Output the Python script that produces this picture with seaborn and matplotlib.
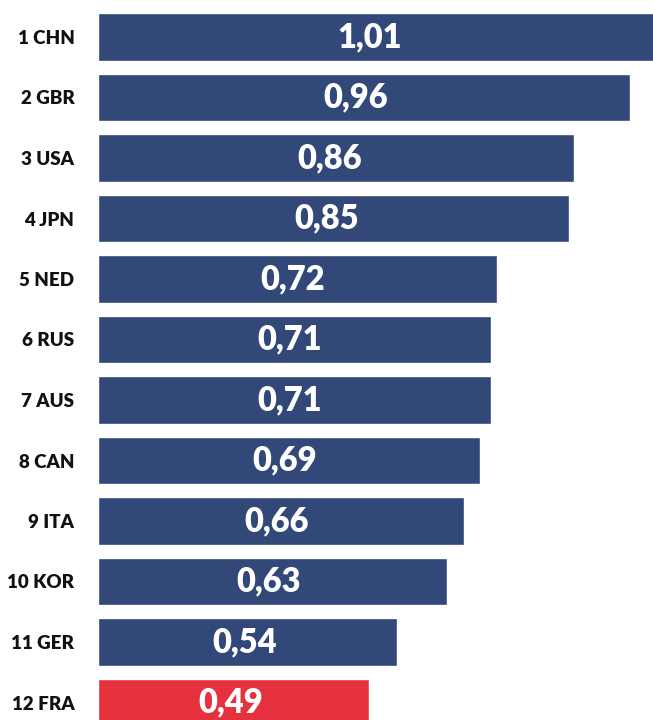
import matplotlib
matplotlib.use("Agg")
import matplotlib.pyplot as plt
import seaborn as sns
import pandas as pd

labels = ["1 CHN", "2 GBR", "3 USA", "4 JPN", "5 NED", "6 RUS", "7 AUS",
          "8 CAN", "9 ITA", "10 KOR", "11 GER", "12 FRA"]
values = [1.01, 0.96, 0.86, 0.85, 0.72, 0.71, 0.71, 0.69, 0.66, 0.63, 0.54, 0.49]
highlight = "12 FRA"

navy = "#324878"
red = "#E5323E"

df = pd.DataFrame({"label": labels, "value": values})
palette = {l: (red if l == highlight else navy) for l in labels}

sns.set_theme(style="white")
plt.rcParams['font.family'] = ['Lato', 'DejaVu Sans']

fig = plt.figure(figsize=(6.53, 7.2), dpi=100)
ax = fig.add_axes([98 / 653, -12.75 / 720, 555 / 653, 726 / 720])
sns.barplot(data=df, x="value", y="label", hue="label", palette=palette,
            order=labels, width=0.78, legend=False, ax=ax, saturation=1)
ax.set_xlim(0, 555 / 554)
ax.set_ylim(11.5, -0.5)
ax.set_xlabel("")
ax.set_ylabel("")
ax.set_xticks([])
for s in ax.spines.values():
    s.set_visible(False)
ax.tick_params(axis="y", length=0, pad=17)
for t in ax.get_yticklabels():
    t.set_fontsize(13.5)
    t.set_fontweight("heavy")
    t.set_color("#111111")

for i, v in enumerate(values):
    ax.text(v * 0.48 + 0.005, i, f"{v:.2f}".replace(".", ","), ha="center", va="center",
            color="white", fontsize=23.5, fontweight="heavy")

fig.savefig("out.png", dpi=100)
